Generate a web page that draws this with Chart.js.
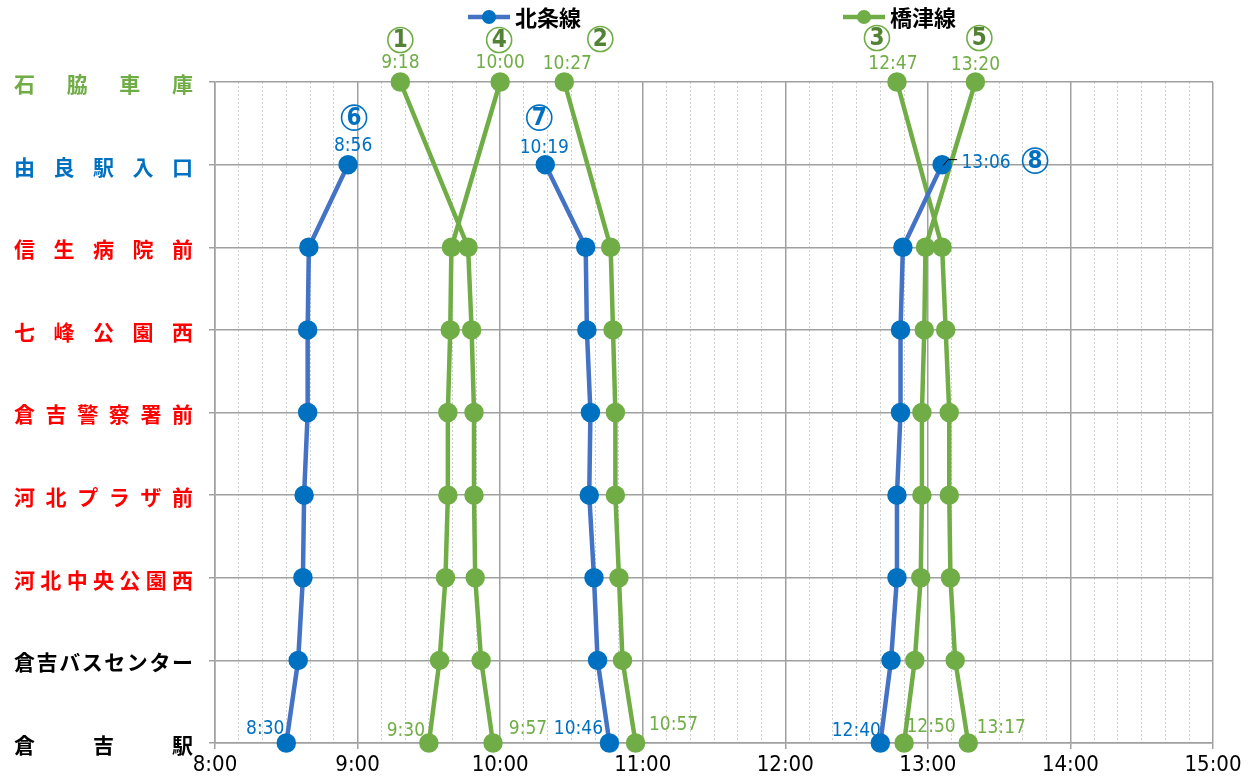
<!DOCTYPE html>
<html lang="ja">
<head>
<meta charset="utf-8">
<script src="https://cdn.jsdelivr.net/npm/chart.js@4.4.1/dist/chart.umd.min.js"></script>
<style>
  html, body { margin: 0; padding: 0; background: #fff; }
  #wrap { width: 1250px; height: 780px; position: relative; }
</style>
</head>
<body>
<div id="wrap"><canvas id="chart"></canvas></div>
<script>
// stops, bottom (0) to top (8)
const stops = ['倉吉駅', '倉吉バスセンター', '河北中央公園西', '河北プラザ前', '倉吉警察署前', '七峰公園西', '信生病院前', '由良駅入口', '石脇車庫'];
const lineNames = ['北条線', '橋津線'];
const hourLabels = ['8:00', '9:00', '10:00', '11:00', '12:00', '13:00', '14:00', '15:00'];

// trip times in minutes after midnight, one value per stop (null = not served)
const tripNos = [6, 7, 8, 1, 4, 2, 3, 5];
const tripLine = [0, 0, 0, 1, 1, 1, 1, 1];
const trip6 = [510, 515, 517, 517.5, 519, 519, 519.5, 536, null];
const trip7 = [646, 641, 639.5, 637.5, 638, 636.5, 636, 619, null];
const trip8 = [760, 764.5, 767, 767, 768.5, 768.5, 769.5, 786, null];
const trip1 = [597, 592, 589.5, 589, 589, 588, 586.5, null, 558];
const trip4 = [570, 574.5, 577, 578, 578, 579, 579.5, null, 600];
const trip2 = [657, 651.5, 650, 648.5, 648.5, 647.5, 646.5, null, 627];
const trip3 = [797, 791.5, 789.5, 789, 789, 787.5, 786, null, 767];
const trip5 = [770, 774.5, 777, 777.5, 777.5, 778.5, 779, null, 800];
const trips = [trip6, trip7, trip8, trip1, trip4, trip2, trip3, trip5];

// styles
const lineColor = ['#4472C4', '#70AD47'];
const markColor = ['#0070C0', '#70AD47'];
const textColor = ['#0070C0', '#70AD47'];
const numColor = ['#0070C0', '#548235'];
const ringColor = ['#0070C0', '#70AD47'];
const stopColors = ['#000', '#000', '#FF0000', '#FF0000', '#FF0000', '#FF0000', '#FF0000', '#0070C0', '#70AD47'];
const NARROW = '"Liberation Sans Narrow", "DejaVu Sans Condensed", "Liberation Sans", sans-serif';
const JP = '"Noto Sans CJK JP", "Noto Sans", sans-serif';

// label placement per trip, offsets from the end points: [top time, bottom time, circled number]
const place = [
  [[5, -19], [-21, -14], [6, -47]],
  [[-1, -17], [-31, -14], [-6, -47]],
  [[44, -2], [-24, -12], [93, -4]],
  [[0, -19], [35, -14], [0, -42]],
  [[0, -19], [-23, -12], [-1, -42]],
  [[3, -18], [38, -18], [36, -43]],
  [[-4, -18], [33, -15], [-20, -44]],
  [[0, -17], [27, -16], [4, -44]]
];

function fmt(m) {
  const h = Math.floor(m / 60);
  const mm = Math.round(m - h * 60);
  return h + ':' + (mm < 10 ? '0' : '') + mm;
}

const datasets = trips.map((t, i) => {
  const l = tripLine[i];
  const pts = [];
  t.forEach((v, k) => { if (v != null) pts.push({x: v, y: k}); });
  return {
    label: lineNames[l],
    data: pts,
    borderColor: lineColor[l],
    backgroundColor: markColor[l],
    pointBackgroundColor: markColor[l],
    pointBorderColor: markColor[l],
    pointRadius: 7.5,
    pointHoverRadius: 7.5,
    borderWidth: 4.5,
    tension: 0,
    clip: false
  };
});

const decorations = {
  id: 'decorations',
  afterDraw(chart) {
    const ctx = chart.ctx;
    const xs = chart.scales.x, ys = chart.scales.y;

    // stop names, spread over the label column
    ctx.save();
    ctx.font = 'bold 21px ' + JP;
    ctx.textBaseline = 'middle';
    ctx.textAlign = 'left';
    const left = 14, right = 193;
    stops.forEach((name, i) => {
      const py = ys.getPixelForValue(i) + 2;
      const chars = Array.from(name);
      const w = chars.map(c => ctx.measureText(c).width);
      const total = w.reduce((a, b) => a + b, 0);
      const gap = (right - left - total) / (chars.length - 1);
      let px = left;
      ctx.fillStyle = stopColors[i];
      chars.forEach((c, k) => { ctx.fillText(c, px, py); px += w[k] + gap; });
    });
    ctx.restore();

    // time labels and trip numbers
    ctx.save();
    ctx.textAlign = 'center';
    ctx.textBaseline = 'middle';
    trips.forEach((t, i) => {
      const l = tripLine[i];
      let topIdx = t.length - 1;
      while (t[topIdx] == null) topIdx--;
      const tx = xs.getPixelForValue(t[topIdx]), ty = ys.getPixelForValue(topIdx);
      const bx = xs.getPixelForValue(t[0]), by = ys.getPixelForValue(0);
      const p = place[i];
      ctx.font = '19px ' + NARROW;
      ctx.fillStyle = textColor[l];
      ctx.fillText(fmt(t[topIdx]), tx + p[0][0], ty + p[0][1]);
      ctx.fillText(fmt(t[0]), bx + p[1][0], by + p[1][1]);

      // circled trip number
      const cx = tx + p[2][0], cy = ty + p[2][1];
      ctx.strokeStyle = ringColor[l];
      ctx.lineWidth = 1.6;
      ctx.beginPath();
      ctx.arc(cx, cy, 12.5, 0, Math.PI * 2);
      ctx.stroke();
      ctx.font = 'bold 24px ' + NARROW;
      ctx.fillStyle = numColor[l];
      ctx.fillText(String(tripNos[i]), cx, cy + 1);

      if (p[0][0] > 30) {
        ctx.strokeStyle = '#000';
        ctx.lineWidth = 1;
        ctx.beginPath();
        ctx.moveTo(tx + 1, ty + 1);
        ctx.lineTo(tx + 6, ty - 5);
        ctx.lineTo(tx + 15, ty - 5);
        ctx.stroke();
      }
    });
    ctx.restore();

    // legend
    ctx.save();
    const legendX = [468, 843];
    const ly = 17;
    lineNames.forEach((name, l) => {
      const x0 = legendX[l];
      ctx.strokeStyle = lineColor[l];
      ctx.lineWidth = 4.5;
      ctx.beginPath();
      ctx.moveTo(x0, ly);
      ctx.lineTo(x0 + 42, ly);
      ctx.stroke();
      ctx.fillStyle = markColor[l];
      ctx.beginPath();
      ctx.arc(x0 + 21, ly, 7, 0, Math.PI * 2);
      ctx.fill();
      ctx.fillStyle = '#000';
      ctx.font = 'bold 22px ' + JP;
      ctx.textAlign = 'left';
      ctx.textBaseline = 'middle';
      ctx.fillText(name, x0 + 47, ly + 1);
    });
    ctx.restore();
  }
};

const isHour = c => c.tick && c.tick.value % 60 === 0;

new Chart(document.getElementById('chart'), {
  type: 'line',
  data: { datasets: datasets },
  options: {
    responsive: true,
    maintainAspectRatio: false,
    animation: false,
    layout: { padding: { top: 82, right: 37, left: 0, bottom: 0 } },
    plugins: {
      legend: { display: false },
      tooltip: { enabled: false }
    },
    scales: {
      x: {
        type: 'linear',
        min: 480,
        max: 900,
        afterFit: s => { s.height = 37; },
        ticks: {
          stepSize: 10,
          autoSkip: false,
          maxRotation: 0,
          padding: 3,
          color: '#000',
          font: { family: NARROW, size: 22 },
          callback: v => v % 60 === 0 ? hourLabels[(v - 480) / 60] : ''
        },
        grid: {
          color: c => isHour(c) ? '#a0a0a0' : '#cfcfcf',
          lineWidth: c => isHour(c) ? 1.5 : 1,
          tickColor: c => isHour(c) ? '#a0a0a0' : 'rgba(0,0,0,0)',
          tickLength: 6
        },
        border: {
          color: '#a0a0a0',
          width: 1.5,
          dash: c => (c.tick && !isHour(c)) ? [2, 2] : []
        }
      },
      y: {
        type: 'linear',
        min: 0,
        max: 8,
        afterFit: s => { s.width = 215; },
        ticks: { stepSize: 1, display: false },
        grid: { color: '#a0a0a0', lineWidth: 1.5, tickLength: 6 },
        border: { color: '#a0a0a0', width: 1.5 }
      }
    }
  },
  plugins: [decorations]
});
</script>
</body>
</html>
